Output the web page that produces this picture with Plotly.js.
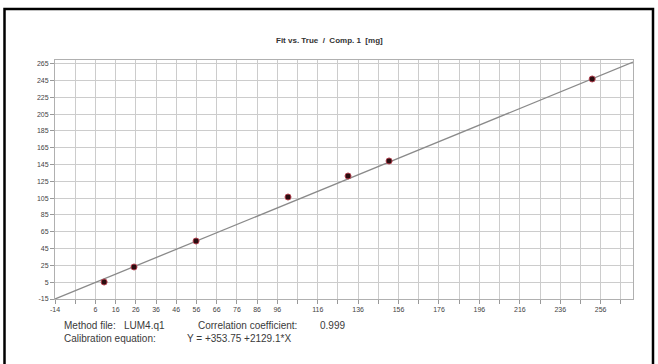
<!DOCTYPE html>
<html><head><meta charset="utf-8">
<script src="https://cdn.plot.ly/plotly-3.0.1.min.js"></script>
<style>html,body{margin:0;padding:0;background:#fff;}#chart{width:658px;height:364px;}</style>
</head><body><div id="chart"></div>
<script>
// measured points: true amount vs fitted amount
const trueValues = [10.3, 25.1, 55.8, 101.3, 131.0, 151.3, 251.8];
const fitValues  = [5.2, 23.1, 54.0, 106.4, 131.4, 149.3, 246.9];
// calibration line end points
const lineTrue = [-14, 272];
const lineFit  = [-15, 267];
// tick labels
const xTickVals = [-14,-4,6,16,26,36,46,56,66,76,86,96,106,116,126,136,146,156,166,176,186,196,206,216,226,236,246,256,266];
const xTickText = ['-14','','6','16','26','36','46','56','66','76','86','96','','116','','136','','156','','176','','196','','216','','236','','256',''];
const yTickVals = [-15,5,25,45,65,85,105,125,145,165,185,205,225,245,265];
const yTickText = ['-15','5','25','45','65','85','105','125','145','165','185','205','225','245','265'];
const titleText = 'Fit vs. True  /  Comp. 1  [mg]';
const footerLabels = ['Method file:', 'LUM4.q1', 'Correlation coefficient:', '0.999', 'Calibration equation:', 'Y = +353.75 +2129.1*X'];

const W = 658, H = 364;
const M = {l: 55, r: 25, t: 60, b: 65};
const pw = W - M.l - M.r, ph = H - M.t - M.b;
const px = x => (x - M.l) / pw;
const py = y => (H - M.b - y) / ph;

const traces = [
  {x: lineTrue, y: lineFit, mode: 'lines', line: {color: '#8a8a8a', width: 1.3}, hoverinfo: 'skip', showlegend: false},
  {x: trueValues, y: fitValues, mode: 'markers', marker: {size: 6, color: '#2a0d10', line: {color: '#b0404e', width: 1}}, showlegend: false}
];

const footPos = [[62, 325], [122, 325], [196, 325], [318, 325], [62, 338], [185, 338]];
const annotations = [{
  text: '<b>' + titleText + '</b>', xref: 'paper', yref: 'paper', x: px(329), y: py(40),
  xanchor: 'center', yanchor: 'middle', showarrow: false,
  font: {family: 'Liberation Sans, Arial', size: 8, color: '#333'}
}];
footerLabels.forEach((t, i) => annotations.push({
  text: t, xref: 'paper', yref: 'paper', x: px(footPos[i][0]), y: py(footPos[i][1]),
  xanchor: 'left', yanchor: 'middle', showarrow: false,
  font: {family: 'Liberation Sans, Arial', size: 10, color: '#3a3a3a'}
}));

const layout = {
  width: W, height: H, margin: M,
  paper_bgcolor: '#fff', plot_bgcolor: '#fff',
  xaxis: {range: [-14, 272], tickmode: 'array', tickvals: xTickVals, ticktext: xTickText,
    showgrid: true, gridcolor: '#cccccc', gridwidth: 1, zeroline: false,
    showline: true, linecolor: '#b0b0b0', mirror: true, ticks: 'outside', ticklen: 4, tickcolor: '#999',
    tickfont: {family: 'Liberation Sans, Arial', size: 7, color: '#444'}},
  yaxis: {range: [-15, 269.5], tickmode: 'array', tickvals: yTickVals, ticktext: yTickText,
    showgrid: true, gridcolor: '#cccccc', gridwidth: 1, zeroline: false,
    showline: true, linecolor: '#b0b0b0', mirror: true, ticks: 'outside', ticklen: 4, tickcolor: '#999',
    tickfont: {family: 'Liberation Sans, Arial', size: 7, color: '#444'}},
  annotations: annotations,
  shapes: [{type: 'rect', xref: 'paper', yref: 'paper', x0: px(4.5), x1: px(653), y0: py(9), y1: py(372),
    line: {color: '#000', width: 2.5}, fillcolor: 'rgba(0,0,0,0)', layer: 'above'}]
};

Plotly.newPlot('chart', traces, layout, {displayModeBar: false, staticPlot: true});
</script>
</body></html>
